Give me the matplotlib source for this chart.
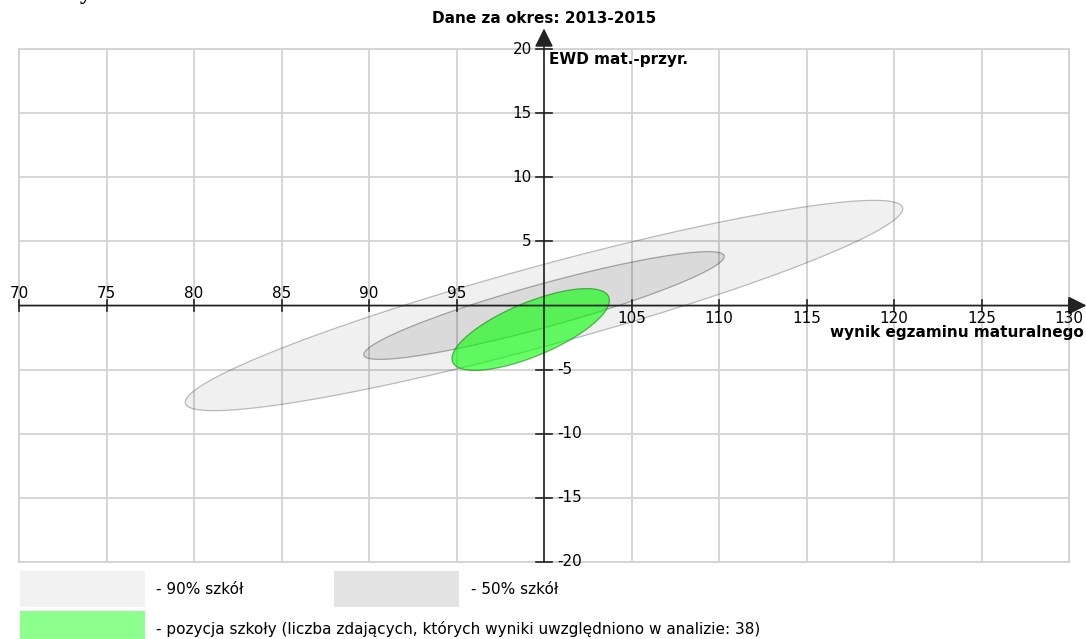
import numpy as np
import matplotlib
matplotlib.use('Agg')
import matplotlib.pyplot as plt
from matplotlib.patches import Rectangle

plt.rcParams['font.family'] = ['DejaVu Sans']

W, H = 1086, 639

# osie
x_ticks = [70, 75, 80, 85, 90, 95, 105, 110, 115, 120, 125, 130]
y_ticks = [20, 15, 10, 5, -5, -10, -15, -20]

# elipsy: srodek x, srodek y, rozrzut x, rozrzut y, korelacja
ell_names = ['90% szkół', '50% szkół', 'szkoła']
ell_cx = [100.0, 100.0, 99.24]
ell_cy = [0.0, 0.0, -1.87]
ell_sx = [20.5, 10.3, 4.5]
ell_sy = [8.2, 4.2, 3.19]
ell_r = [0.92, 0.91, 0.71]
ell_fill = [(0, 0, 0, 0.06), (0, 0, 0, 0.09), (0, 1, 0, 0.6)]
ell_edge = [(0, 0, 0, 0.25), (0, 0, 0, 0.3), (0, 0.4, 0, 0.5)]

title = 'Dane za okres: 2013-2015'
y_label = 'EWD mat.-przyr.'
x_label = 'wynik egzaminu maturalnego'
legend_labels = ['- 90% szkół', '- 50% szkół',
                 '- pozycja szkoły (liczba zdających, których wyniki uwzględniono w analizie: 38)']

fs = 11

fig = plt.figure(figsize=(W / 100, H / 100), dpi=100)
ax = fig.add_axes([19 / W, 77 / H, 1050 / W, 513 / H])
ax.set_xlim(70, 130)
ax.set_ylim(-20, 20)
ax.set_xticks(range(70, 131, 5))
ax.set_yticks(range(-20, 21, 5))
ax.tick_params(length=0, labelbottom=False, labelleft=False)
ax.grid(color='#d2d2d2', lw=1.3)
ax.set_axisbelow(True)
for s in ax.spines.values():
    s.set_color('#d2d2d2')
    s.set_linewidth(1.3)

t = np.linspace(0, 2 * np.pi, 400)
for cx, cy, sx, sy, r, fc, ec in zip(ell_cx, ell_cy, ell_sx, ell_sy, ell_r, ell_fill, ell_edge):
    ex = cx + sx * np.cos(t)
    ey = cy + sy * (r * np.cos(t) + np.sqrt(1 - r ** 2) * np.sin(t))
    ax.fill(ex, ey, facecolor=fc, edgecolor=ec, lw=0.9, zorder=2)

# osie ze strzalkami
arr = dict(arrowstyle='-|>,head_length=0.7,head_width=0.35', color='#222222', lw=1.2,
           mutation_scale=16, shrinkA=0, shrinkB=0)
ax.annotate('', xy=(131.0, 0), xytext=(70, 0), arrowprops=arr, annotation_clip=False, zorder=5)
ax.annotate('', xy=(100, 21.6), xytext=(100, -20), arrowprops=arr, annotation_clip=False, zorder=5)

for xv in x_ticks:
    ax.plot([xv, xv], [-0.45, 0.45], color='#222222', lw=1.2, clip_on=False, zorder=5)
    if xv < 100:
        ax.text(xv, 0.62, str(xv), ha='center', va='baseline', fontsize=fs, zorder=6)
    else:
        ax.text(xv, -1.4, str(xv), ha='center', va='baseline', fontsize=fs, zorder=6)

for yv in y_ticks:
    ax.plot([99.55, 100.45], [yv, yv], color='#222222', lw=1.2, clip_on=False, zorder=5)
    if yv > 0:
        ax.text(99.31, yv, str(yv), ha='right', va='center', fontsize=fs, zorder=6)
    else:
        ax.text(100.76, yv, str(yv), ha='left', va='center', fontsize=fs, zorder=6)

ax.text(100.29, 18.83, y_label, ha='left', va='baseline', fontsize=fs, fontweight='bold', zorder=6)
fig.text(1084 / W, 1 - 337 / H, x_label, ha='right', va='baseline', fontsize=fs, fontweight='bold')
fig.text(544 / W, 1 - 23 / H, title, ha='center', va='baseline', fontsize=fs, fontweight='bold')

# uciety naglowek u gory
fig.text(118 / W, 1 + 1 / H, 'Matematyka', ha='right', va='baseline', fontsize=17,
         fontweight='bold', family='Liberation Serif')

# legenda
sw_x = [20, 334, 20]
sw_y = [571, 571, 611]
sw_c = ['#f2f2f2', '#e3e3e3', '#8cff8c']
tx_x = [156, 471, 156]
for x0, y0, c, tx, lab in zip(sw_x, sw_y, sw_c, tx_x, legend_labels):
    fig.add_artist(Rectangle((x0 / W, 1 - (y0 + 36) / H), 125 / W, 36 / H,
                             transform=fig.transFigure, facecolor=c, edgecolor='none'))
    fig.text(tx / W, 1 - (y0 + 18) / H, lab, ha='left', va='center', fontsize=fs)

fig.savefig('out.png', dpi=100)
